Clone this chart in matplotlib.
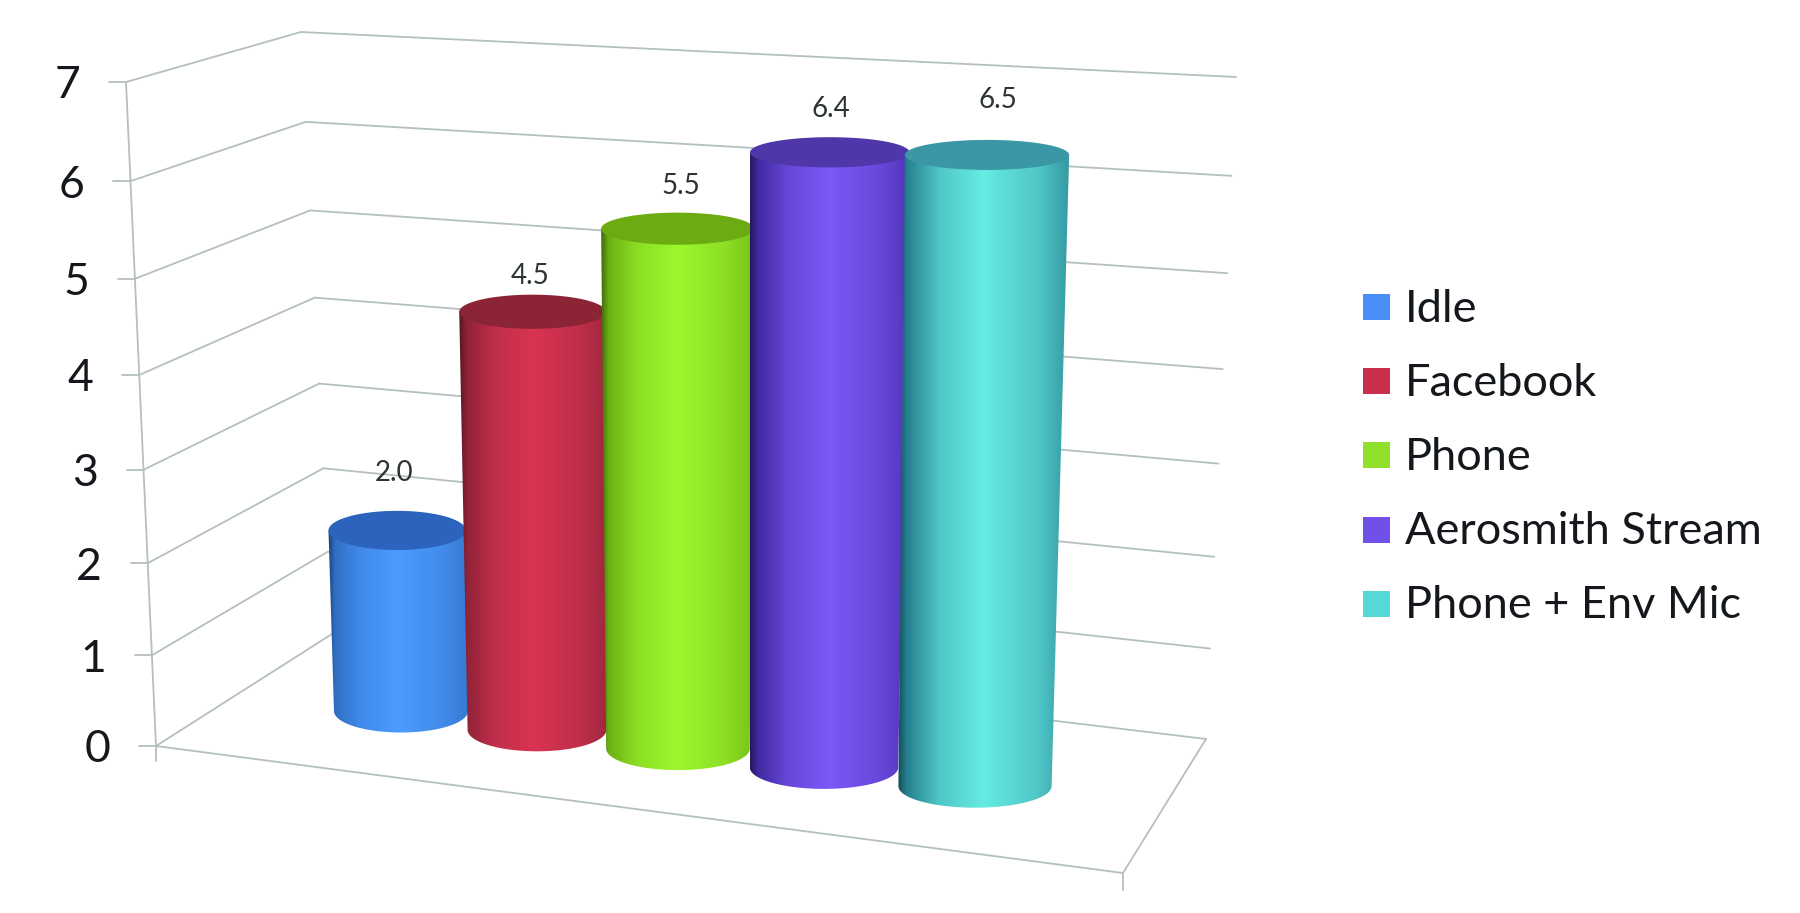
import numpy as np
import matplotlib
matplotlib.use("Agg")
import matplotlib.pyplot as plt
from matplotlib.colors import LinearSegmentedColormap, to_rgb
from matplotlib.patches import Polygon, Rectangle

# Chart data
series_names = ["Idle", "Facebook", "Phone", "Aerosmith Stream", "Phone + Env Mic"]
series_values = [2.0, 4.5, 5.5, 6.4, 6.5]
axis_ticks = [0, 1, 2, 3, 4, 5, 6, 7]

# Shading of each cylinder: edge, highlight, top cap, legend swatch
edge_colors = ["#2f6fc4", "#8f2338", "#6cb014", "#4129a0", "#25808f"]
bright_colors = ["#4c9bff", "#d93453", "#9df72e", "#7c58f8", "#66ece4"]
cap_colors = ["#2b63bd", "#8b2434", "#6cab12", "#4f37aa", "#3b97a6"]
swatch_colors = ["#4a8ff8", "#c92f4c", "#90e02c", "#7150ea", "#55d8d6"]

grid_color = "#b4c0be"
text_color = "#14181c"
font_name = "Lato"

# Pixel corners of the 3D box, (value 0, value 7)
front_left = ((156, 746), (126, 82))
back_left = ((332, 634), (301, 32))
back_right = ((1206, 739), (1236, 77))
floor_front_right = (1123, 873)


# Perspective squeezes the lower part of the value axis a bit
def axis_frac(value):
    return value / (7 + 0.053 * (7 - value))


def on_edge(edge, value):
    f = axis_frac(value)
    return (edge[0][0] + (edge[1][0] - edge[0][0]) * f,
            edge[0][1] + (edge[1][1] - edge[0][1]) * f)


def draw_line(ax, p1, p2):
    ax.plot([p1[0], p2[0]], [p1[1], p2[1]], color=grid_color, lw=1.3,
            solid_capstyle="round", zorder=1)


# Dark on the left, highlight in the middle, lighter dark on the right
def shade_map(slot):
    edge = np.array(to_rgb(edge_colors[slot]))
    bright = np.array(to_rgb(bright_colors[slot]))
    stops = [(0, edge * 0.6), (0.05, edge), (0.24, edge * 0.35 + bright * 0.65),
             (0.5, bright), (0.82, edge * 0.35 + bright * 0.65),
             (1, edge * 0.75 + bright * 0.25)]
    return LinearSegmentedColormap.from_list("shade", stops)


# Draw one cylinder from its value, slot is its place along the floor
def draw_cylinder(ax, slot, value, label_offset):
    f = axis_frac(value)
    base_x = 401 + 133.5 * slot + 2.5 * slot * slot
    base_y = 711 + 18.8 * slot
    height = (656 + 6.6 * slot) * f
    base_a = 67 + 2.4 * slot
    top_a = base_a + 6 * f
    top_x = base_x + (-14 + 6.75 * slot) * f
    top_y = base_y - height
    base_b = 21.5
    top_b = 21.5 - 7 * f

    t = np.linspace(np.pi, 0, 80)

    # body outline, left side down, round the bottom, right side up
    body_x = np.concatenate([[top_x - top_a], base_x + base_a * np.cos(t), [top_x + top_a]])
    body_y = np.concatenate([[top_y], base_y + base_b * np.sin(t), [top_y]])

    z = 3 + slot
    body = Polygon(np.column_stack([body_x, body_y]), closed=True,
                   facecolor="none", edgecolor="none", zorder=z)
    ax.add_patch(body)

    gradient = np.linspace(0, 1, 256).reshape(1, -1)
    left = min(top_x - top_a, base_x - base_a)
    right = max(top_x + top_a, base_x + base_a)
    img = ax.imshow(gradient, cmap=shade_map(slot), aspect="auto", interpolation="bilinear",
                    extent=(left, right, base_y + base_b + 2, top_y - 2), zorder=z)
    img.set_clip_path(body)

    # top cap, a full ellipse over the straight top of the body
    t_full = np.linspace(0, 2 * np.pi, 160)
    ax.fill(top_x + top_a * np.cos(t_full), top_y + top_b * np.sin(t_full),
            color=cap_colors[slot], lw=0, zorder=z + 0.1)

    ax.text(top_x + label_offset[0], top_y + label_offset[1], f"{value:.1f}",
            fontsize=20, ha="center", va="center", color="#2c3436",
            family=font_name, zorder=20)


fig = plt.figure(figsize=(18, 9.13), dpi=100)
ax = fig.add_axes([0, 0, 1, 1])

# Walls and floor
for tick in axis_ticks:
    a = on_edge(front_left, tick)
    b = on_edge(back_left, tick)
    c = on_edge(back_right, tick)
    draw_line(ax, a, b)
    draw_line(ax, b, c)
    draw_line(ax, (a[0] - 17, a[1]), a)
    ax.text(a[0] - 46, a[1] + 4, str(tick), fontsize=32, ha="right", va="center",
            color=text_color, family=font_name)

draw_line(ax, front_left[0], front_left[1])
draw_line(ax, front_left[0], floor_front_right)
draw_line(ax, floor_front_right, back_right[0])
draw_line(ax, front_left[0], (front_left[0][0], front_left[0][1] + 15))
draw_line(ax, floor_front_right, (floor_front_right[0], floor_front_right[1] + 17))

# Cylinders, nearest one goes last
label_offsets = [(-3, -57), (-2, -36), (3, -43), (1, -43), (11, -55)]
for i, val in enumerate(series_values):
    draw_cylinder(ax, i, val, label_offsets[i])

# Legend
for i, name in enumerate(series_names):
    y = 307 + 74.2 * i
    ax.add_patch(Rectangle((1363, y - 13), 27, 26, facecolor=swatch_colors[i], lw=0))
    ax.text(1405, y + 2, name, fontsize=32.5, ha="left", va="center",
            color=text_color, family=font_name)

ax.set_xlim(0, 1800)
ax.set_ylim(913, 0)
ax.axis("off")

fig.savefig("out.png", dpi=100, facecolor="white")
